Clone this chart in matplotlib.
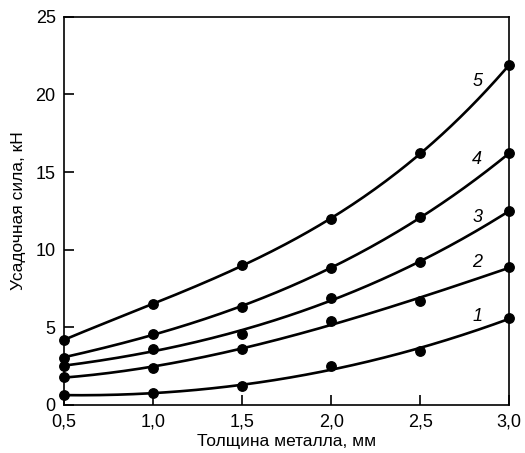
import numpy as np
import matplotlib
matplotlib.use('Agg')
import matplotlib.pyplot as plt
from matplotlib.ticker import FuncFormatter

plt.rcParams['font.family'] = ['Liberation Sans', 'DejaVu Sans']

# толщина металла, мм
thickness = [0.5, 1.0, 1.5, 2.0, 2.5, 3.0]

# усадочная сила, кН (кривые 1..5)
force_1 = [0.65, 0.75, 1.2, 2.5, 3.5, 5.6]
force_2 = [1.8, 2.4, 3.6, 5.4, 6.7, 8.9]
force_3 = [2.5, 3.6, 4.6, 6.9, 9.2, 12.5]
force_4 = [3.05, 4.6, 6.3, 8.85, 12.1, 16.2]
force_5 = [4.2, 6.5, 9.0, 12.0, 16.2, 21.9]

curve_labels = ['1', '2', '3', '4', '5']
label_x = [2.82, 2.82, 2.82, 2.82, 2.82]
label_y = [5.7, 9.2, 12.1, 15.8, 20.8]

x_ticks = [0.5, 1.0, 1.5, 2.0, 2.5, 3.0]
y_ticks = [0, 5, 10, 15, 20, 25]

fig = plt.figure(figsize=(5.25, 4.53), dpi=100)
ax = fig.add_axes([0.122, 0.106, 0.848, 0.857])

series = [force_1, force_2, force_3, force_4, force_5]
xs = np.linspace(thickness[0], thickness[-1], 200)
for ys in series:
    # сглаживающая кривая по экспериментальным точкам
    p = np.polyfit(thickness, ys, 3)
    ax.plot(xs, np.polyval(p, xs), color='black', linewidth=1.9,
            solid_capstyle='round', clip_on=False)
    ax.plot(thickness, ys, 'o', color='black', markersize=6.8, clip_on=False,
            zorder=5)

for lab, lx, ly in zip(curve_labels, label_x, label_y):
    ax.text(lx, ly, lab, fontsize=13, style='italic', ha='center', va='center')

ax.set_xlim(0.5, 3.0)
ax.set_ylim(0, 25)
ax.set_xticks(x_ticks)
ax.set_yticks(y_ticks)
ax.xaxis.set_major_formatter(FuncFormatter(lambda v, _: f'{v:.1f}'.replace('.', ',')))
ax.tick_params(direction='in', length=7, width=1.2, labelsize=13, pad=6)
for s in ax.spines.values():
    s.set_linewidth(1.2)

ax.set_xlabel('Толщина металла, мм', fontsize=12.5, labelpad=3)
ax.set_ylabel('Усадочная сила, кН', fontsize=12.5, labelpad=7)

fig.savefig('out.png', dpi=100)
